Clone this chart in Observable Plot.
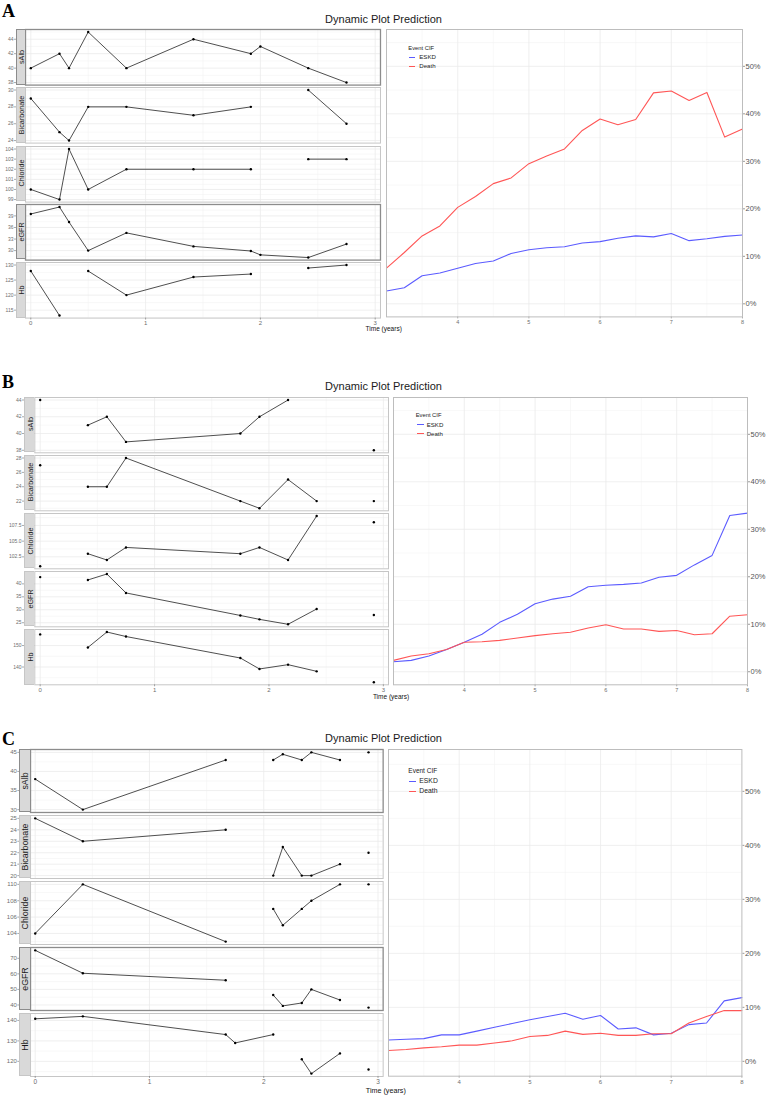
<!DOCTYPE html>
<html><head><meta charset="utf-8">
<script src="https://cdn.jsdelivr.net/npm/d3@7"></script>
<script src="https://cdn.jsdelivr.net/npm/@observablehq/plot@0.6"></script>
<style>
html,body{margin:0;padding:0;background:#fff;}
#root{position:relative;width:767px;height:1097px;overflow:hidden;font-family:"Liberation Sans",Arial,sans-serif;}
.abs{position:absolute;white-space:nowrap;}
.letter{font-family:"Liberation Serif","Times New Roman",serif;font-weight:bold;font-size:18px;line-height:18px;color:#000;}
.title{font-size:11px;line-height:11px;color:#1a1a1a;text-align:center;}
.strip{background:#d9d9d9;box-sizing:border-box;}
.strip span{position:absolute;left:50%;top:50%;transform:translate(-50%,-50%) rotate(-90deg);white-space:nowrap;color:#1a1a1a;}
svg{overflow:visible;}
</style></head><body><div id="root"></div><script>
// ---------- DATA ----------
const varNames = ["sAlb", "Bicarbonate", "Chloride", "eGFR", "Hb"];
const cifTimes = [3,3.25,3.5,3.75,4,4.25,4.5,4.75,5,5.25,5.5,5.75,6,6.25,6.5,6.75,7,7.25,7.5,7.75,8];
const cifTicks = [0,10,20,30,40,50];
const cifXTicks = [4,5,6,7,8];
const timeTicks = [0,1,2,3];

// Panel A
const timesA = [0,0.25,0.333,0.5,0.833,1.417,1.917,2.0,2.417,2.75];
const sAlbA = [40,42,40,45,40,44,42,43,40,38];
const bicarbA = [29,25,24,28,28,27,28,null,30,26];
const chlorideA = [100,99,104,100,102,102,102,null,103,103];
const egfrA = [39.5,41.3,37.4,30,34.6,31.1,29.9,28.9,28.2,31.7];
const hbA = [128,113.2,null,128,120,126,127,null,129,130];
const ticksA = [[38,40,42,44],[24,26,28,30],[99,100,101,102,103,104],[30,33,36,39],[115,120,125,130]];
const eskdA = [2.7,3.4,5.9,6.5,7.5,8.5,9.0,10.6,11.4,11.8,12.0,12.8,13.1,13.8,14.3,14.1,14.8,13.3,13.7,14.2,14.5];
const deathA = [7.5,10.8,14.3,16.4,20.3,22.6,25.3,26.5,29.5,31.1,32.6,36.5,38.9,37.7,38.8,44.4,44.8,42.8,44.5,35.1,36.8];

// Panel B
const timesB = [0,0.2,0.417,0.583,0.75,1.75,1.917,2.167,2.417,2.667,2.917];
const sAlbB = [44,null,41,42,39,40,42,44,null,null,38];
const bicarbB = [27,null,24,24,28,22,21,25,22,null,22];
const chlorideB = [101,null,103,102,104,103,104,102,109,null,108];
const egfrB = [42.6,null,41.5,43.8,36.5,27.8,26.3,24.4,30.3,null,28];
const hbB = [155.2,null,149.1,156.3,154.2,144.2,139.1,141.1,138.0,null,132.9];
const ticksB = [[38,40,42,44],[22,24,26,28],[102.5,105,107.5],[25,30,35,40],[140,150]];
const eskdB = [2.1,2.4,3.3,4.7,6.2,7.9,10.4,12.1,14.3,15.3,15.9,17.9,18.2,18.4,18.7,19.9,20.3,22.5,24.5,32.9,33.4];
const deathB = [2.4,3.3,3.8,4.7,6.2,6.3,6.6,7.1,7.6,8.0,8.3,9.2,9.9,9.0,9.0,8.5,8.7,7.8,8.0,11.7,12.0];

// Panel C
const timesC = [0,0.417,1.667,1.75,2.083,2.167,2.333,2.417,2.667,2.75,2.917];
const sAlbC = [38,30,43,null,43,44.5,43,45,43,null,45];
const bicarbC = [25,23,24,null,20,22.5,20,20,21,null,22];
const chlorideC = [104,110,103,null,107,105,107,108,110,null,110];
const egfrC = [75.1,60.4,55.9,null,46.4,39.4,41.3,50,43.2,null,38.3];
const hbC = [140.8,142,133.1,129,133.1,null,121,114,123.9,null,116];
const ticksC = [[30,35,40,45],[20,21,22,23,24,25],[104,106,108,110],[40,50,60,70],[120,130,140]];
const eskdC = [3.95,4.1,4.2,4.9,4.9,5.6,6.3,7.0,7.7,8.3,8.9,7.8,8.5,6.0,6.2,4.9,5.2,6.8,7.1,11.2,11.8];
const deathC = [2.0,2.2,2.5,2.7,3.0,3.0,3.4,3.8,4.6,4.8,5.6,5.0,5.2,4.8,4.8,5.1,5.1,7.1,8.3,9.4,9.4];

const titleText = "Dynamic Plot Prediction";
const xTitleText = "Time (years)";
const legendTitle = "Event CIF";
const eventNames = ["ESKD", "Death"];

// ---------- LAYOUT / STYLE ----------
const layoutA = {letter:"A", letterTop:1.5, titleTop:13.5, timeX:383.7, timeY:329.2, timeFont:6.5,
  facetTop:29, facetH:55.6, facetStep:58.3, stripL:16, plotL:25, plotR:380, xDomain:[-0.046,3.046],
  rightL:386, rightR:742, rightT:29.3, rightB:316.7, dark:[0,3], yFont:5, xFont:6, stripFont:7.2,
  cifYFont:7.5, cifXFont:5.5, leg:{dx:22.3, dy:19.7, step:8.6, fs:5.8, key:6}};
const layoutB = {letter:"B", letterTop:372.5, titleTop:381, timeX:391, timeY:697.2, timeFont:6.5,
  facetTop:396.7, facetH:55.3, facetStep:58.15, stripL:24, plotL:34.3, plotR:388, xDomain:[-0.047,3.045],
  rightL:393.3, rightR:747.3, rightT:396.7, rightB:684, dark:[], yFont:5, xFont:6, stripFont:7.2,
  cifYFont:7.5, cifXFont:5.5, leg:{dx:22.4, dy:19, step:9, fs:5.8, key:6.5}};
const layoutC = {letter:"C", letterTop:729.5, titleTop:732.5, timeX:385.8, timeY:1090.5, timeFont:7.2,
  facetTop:749.3, facetH:63, facetStep:66, stripL:19.3, plotL:30, plotR:382.7, xDomain:[-0.041,3.045],
  rightL:388.3, rightR:741.7, rightT:749.3, rightB:1076, dark:[0,3], yFont:6, xFont:6.5, stripFont:8.8,
  cifYFont:7.8, cifXFont:6, leg:{dx:20, dy:22.4, step:10, fs:6.5, key:6.7}};

const panels = [
  {times:timesA, series:[sAlbA,bicarbA,chlorideA,egfrA,hbA], ticks:ticksA, eskd:eskdA, death:deathA, L:layoutA},
  {times:timesB, series:[sAlbB,bicarbB,chlorideB,egfrB,hbB], ticks:ticksB, eskd:eskdB, death:deathB, L:layoutB},
  {times:timesC, series:[sAlbC,bicarbC,chlorideC,egfrC,hbC], ticks:ticksC, eskd:eskdC, death:deathC, L:layoutC}
];

const FONT = "Liberation Sans, Arial, sans-serif";
const colESKD = "#5b5bff", colDeath = "#ff5656";
const gridMajor = "#ebebeb", gridMinor = "#f4f4f4";
const root = document.getElementById("root");

function place(el, left, top) {
  el.style.position = "absolute";
  el.style.left = left + "px";
  el.style.top = top + "px";
  root.appendChild(el);
  return el;
}
function div(cls, text, left, top, extra) {
  const d = document.createElement("div");
  d.className = "abs " + (cls || "");
  if (text != null) d.textContent = text;
  if (extra) Object.assign(d.style, extra);
  return place(d, left, top);
}
function minorOf(ticks, domain) {
  const step = ticks.length > 1 ? ticks[1] - ticks[0] : 1;
  const out = [];
  for (let k = -1; k < ticks.length; k++) {
    const m = ticks[0] + (k + 0.5) * step;
    if (m > domain[0] && m < domain[1]) out.push(m);
  }
  return out;
}

for (const P of panels) {
  const L = P.L;
  div("letter", L.letter, 2, L.letterTop);
  div("title", titleText, 0, L.titleTop, {width: "767px"});

  // left facets
  P.series.forEach((vals, i) => {
    const isBottom = i === P.series.length - 1;
    const data = P.times.map((t, j) => ({t, v: vals[j]}));
    const defined = vals.filter(v => v != null);
    const lo = d3.min(defined), hi = d3.max(defined), pad = (hi - lo) * 0.05;
    const yDom = [lo - pad, hi + pad];
    const ticks = P.ticks[i];
    const dec = ticks.some(t => t % 1 !== 0) ? 1 : 0;
    const dark = L.dark.includes(i);
    const border = dark ? "#8c8c8c" : "#c6c6c6";
    const top = L.facetTop + i * L.facetStep;
    const mb = isBottom ? 14 : 1;
    const stripW = L.plotL - L.stripL;
    const marks = [
      Plot.ruleY(minorOf(ticks, yDom), {stroke: gridMinor, strokeWidth: 0.6}),
      Plot.ruleX(minorOf(timeTicks, L.xDomain), {stroke: gridMinor, strokeWidth: 0.6}),
      Plot.ruleY(ticks, {stroke: gridMajor, strokeWidth: 0.8}),
      Plot.ruleX(timeTicks, {stroke: gridMajor, strokeWidth: 0.8}),
      Plot.line(data, {x: "t", y: "v", stroke: "#222", strokeWidth: 0.8}),
      Plot.dot(data, {x: "t", y: "v", r: 1.2, fill: "#000", stroke: "none"}),
      Plot.axisY(ticks, {anchor: "left", label: null, tickSize: stripW + 2, tickPadding: 1,
        tickFormat: d => d.toFixed(dec), fontSize: L.yFont, color: "#6e6e6e", strokeWidth: 0.6}),
      Plot.frame({stroke: border, strokeWidth: dark ? 1.3 : 1})
    ];
    if (isBottom) marks.push(Plot.axisX(timeTicks, {anchor: "bottom", label: null, tickSize: 2, tickPadding: 1,
      tickFormat: d => String(d), fontSize: L.xFont, color: "#6e6e6e", strokeWidth: 0.6}));
    const svg = Plot.plot({
      width: L.plotR + 2, height: L.facetH + 1 + mb,
      marginLeft: L.plotL, marginRight: 2, marginTop: 1, marginBottom: mb,
      x: {domain: L.xDomain, axis: isBottom ? undefined : null},
      y: {domain: yDom},
      style: {fontFamily: FONT, background: "transparent", overflow: "visible", maxWidth: "none"},
      marks
    });
    place(svg, 0, top - 1);
    // strip
    const s = div("strip", null, L.stripL, top, {width: stripW + "px", height: L.facetH + "px",
      borderLeft: "1px solid " + border, borderTop: "1px solid " + border, borderBottom: "1px solid " + border});
    const sp = document.createElement("span");
    sp.textContent = varNames[i];
    sp.style.fontSize = L.stripFont + "px";
    s.appendChild(sp);
  });

  // x axis title
  div("", xTitleText, L.timeX, L.timeY - L.timeFont / 2,
    {fontSize: L.timeFont + "px", lineHeight: L.timeFont + "px", color: "#111", transform: "translateX(-50%)"});

  // right CIF panel
  const cif = [];
  cifTimes.forEach((t, j) => {
    cif.push({t, v: P.eskd[j], ev: eventNames[0]});
    cif.push({t, v: P.death[j], ev: eventNames[1]});
  });
  const yDomC = [-2.75, 57.75];
  const rw = L.rightR - L.rightL, rh = L.rightB - L.rightT;
  const svgR = Plot.plot({
    width: rw + 1 + 26, height: rh + 1 + 14,
    marginLeft: 1, marginRight: 26, marginTop: 1, marginBottom: 14,
    x: {domain: [3, 8]},
    y: {domain: yDomC},
    color: {domain: eventNames, range: [colESKD, colDeath]},
    style: {fontFamily: FONT, background: "transparent", overflow: "visible", maxWidth: "none"},
    marks: [
      Plot.ruleY(minorOf(cifTicks, yDomC), {stroke: gridMinor, strokeWidth: 0.6}),
      Plot.ruleX(minorOf([3,4,5,6,7,8], [3,8]), {stroke: gridMinor, strokeWidth: 0.6}),
      Plot.ruleY(cifTicks, {stroke: gridMajor, strokeWidth: 0.8}),
      Plot.ruleX([4,5,6,7], {stroke: gridMajor, strokeWidth: 0.8}),
      Plot.line(cif, {x: "t", y: "v", z: "ev", stroke: "ev", strokeWidth: 1.1}),
      Plot.axisY(cifTicks, {anchor: "right", label: null, tickSize: 2, tickPadding: 1,
        tickFormat: d => d + "%", fontSize: L.cifYFont, color: "#555", strokeWidth: 0.6}),
      Plot.axisX(cifXTicks, {anchor: "bottom", label: null, tickSize: 2, tickPadding: 1.5,
        tickFormat: d => String(d), fontSize: L.cifXFont, color: "#6e6e6e", strokeWidth: 0.6}),
      Plot.frame({stroke: "#bdbdbd", strokeWidth: 1})
    ]
  });
  place(svgR, L.rightL - 1, L.rightT - 1);

  // legend
  const g = L.leg;
  const lx = L.rightL + g.dx, ly = L.rightT + g.dy;
  div("", legendTitle, lx, ly - g.fs / 2, {fontSize: g.fs + "px", lineHeight: g.fs + "px", color: "#222"});
  [colESKD, colDeath].forEach((c, k) => {
    const cy = ly + (k + 1) * g.step;
    div("", null, Math.round(lx + 1), Math.round(cy - 0.5), {width: Math.round(g.key) + "px", height: "1px", background: c});
    div("", eventNames[k], lx + 11, cy - g.fs / 2 - 0.3, {fontSize: (g.fs + 0.3) + "px", lineHeight: g.fs + "px", color: "#222"});
  });
}
</script></body></html>
